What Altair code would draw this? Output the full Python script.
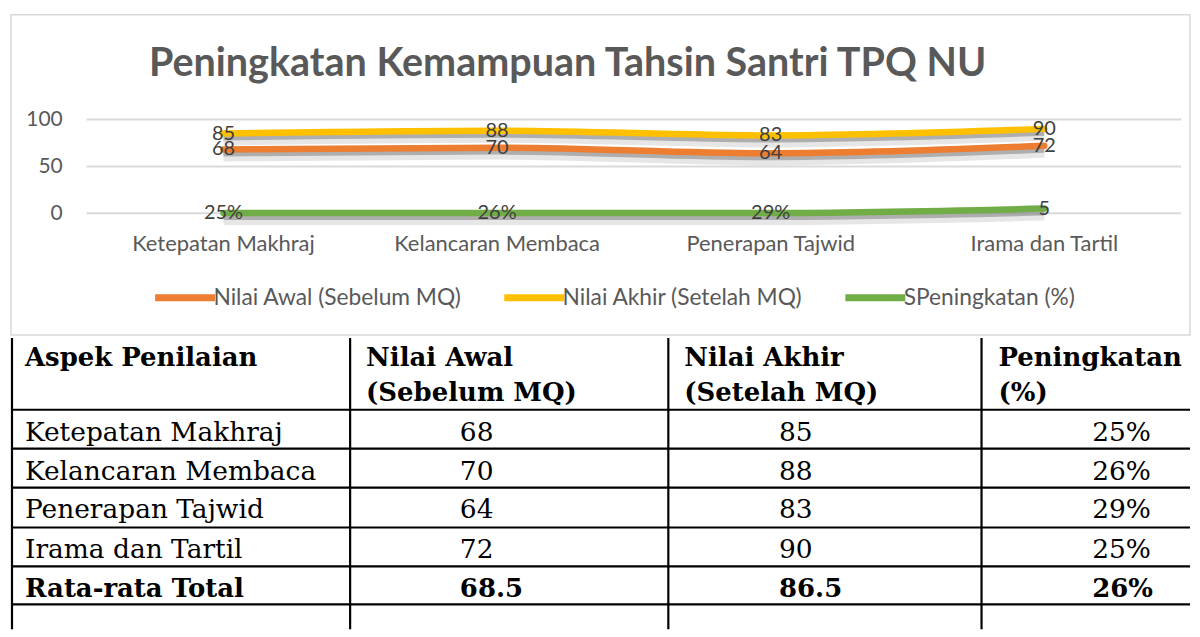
import altair as alt
import pandas as pd

# ---------------- data ----------------
categories = ["Ketepatan Makhraj", "Kelancaran Membaca", "Penerapan Tajwid", "Irama dan Tartil"]
nilai_awal = [68, 70, 64, 72]
nilai_akhir = [85, 88, 83, 90]
peningkatan = [0.25, 0.26, 0.29, 5]
peningkatan_labels = ["25%", "26%", "29%", "5"]
series_names = ["Nilai Awal (Sebelum MQ)", "Nilai Akhir (Setelah MQ)", "SPeningkatan (%)"]
series_colors = ["#ED7D31", "#FFC000", "#70AD47"]
y_ticks = [0, 50, 100]
title_text = "Peningkatan Kemampuan Tahsin Santri TPQ NU"

table_header_1 = ["Aspek Penilaian", "Nilai Awal", "Nilai Akhir", "Peningkatan"]
table_header_2 = ["", "(Sebelum MQ)", "(Setelah MQ)", "(%)"]
table_aspek = ["Ketepatan Makhraj", "Kelancaran Membaca", "Penerapan Tajwid", "Irama dan Tartil", "Rata-rata Total"]
table_awal = ["68", "70", "64", "72", "68.5"]
table_akhir = ["85", "88", "83", "90", "86.5"]
table_pct = ["25%", "26%", "29%", "25%", "26%"]
bold_rows = [False, False, False, False, True]

# ---------------- layout (pixels) ----------------
W1, H1 = 1182, 321          # chart box
X_FIRST, X_STEP = 213, 274.3
Y_ZERO, Y_PER_UNIT = 199, 0.94
W2, H2 = 1182, 295          # table panel

x_dom = [-X_FIRST / X_STEP, (W1 - X_FIRST) / X_STEP]
y_dom = [-(H1 - Y_ZERO) / Y_PER_UNIT, Y_ZERO / Y_PER_UNIT]
xs = alt.Scale(domain=x_dom, nice=False, zero=False)
ys = alt.Scale(domain=y_dom, nice=False, zero=False)

rows = []
for name, vals in zip(series_names, [nilai_awal, nilai_akhir, peningkatan]):
    for i, v in enumerate(vals):
        rows.append({"series": name, "idx": i, "value": v})
df = pd.DataFrame(rows)
df["label"] = [str(v) for v in nilai_awal] + [str(v) for v in nilai_akhir] + peningkatan_labels

grid_df = pd.DataFrame({"v": y_ticks, "x0": -0.5, "x1": len(categories) - 0.5})
cat_df = pd.DataFrame({"idx": list(range(len(categories))), "cat": categories, "base": 0})

FONT = "Lato"
GRAY = "#595959"

X = lambda f: alt.X(f, scale=xs, axis=None)
Y = lambda f: alt.Y(f, scale=ys, axis=None)

grid = alt.Chart(grid_df).mark_rule(color="#d9d9d9", strokeWidth=2).encode(
    y=Y("v:Q"), x=X("x0:Q"), x2="x1:Q")

ylabels = alt.Chart(grid_df).mark_text(font=FONT, fontSize=21, color=GRAY, align="right",
                                       baseline="middle", dx=-24, dy=1).encode(
    y=Y("v:Q"), x=X("x0:Q"), text="v:N")

xlabels = alt.Chart(cat_df).mark_text(font=FONT, fontSize=22, color=GRAY, align="center",
                                      baseline="middle", dy=31).encode(
    x=X("idx:Q"), y=Y("base:Q"), text="cat:N")

shadow2 = alt.Chart(df).mark_line(color="#9a9a9a", opacity=0.25, strokeWidth=12, yOffset=6,
                                  interpolate="monotone").encode(
    x=X("idx:Q"), y=Y("value:Q"), detail="series:N")
shadow = alt.Chart(df).mark_line(color="#808080", opacity=0.55, strokeWidth=6, yOffset=4,
                                 interpolate="monotone").encode(
    x=X("idx:Q"), y=Y("value:Q"), detail="series:N")

lines = alt.Chart(df).mark_line(strokeWidth=6.5, strokeCap="round", interpolate="monotone").encode(
    x=X("idx:Q"), y=Y("value:Q"),
    color=alt.Color("series:N", sort=series_names,
                    scale=alt.Scale(domain=series_names, range=series_colors),
                    legend=alt.Legend(orient="none", legendX=141, legendY=250, direction="horizontal",
                                      title=None, symbolType="stroke", symbolStrokeWidth=7,
                                      symbolSize=3600, labelFont=FONT, labelFontSize=22.8,
                                      labelColor=GRAY, labelOffset={"expr": "-5"}, columnPadding=28,
                                      padding=0, labelLimit=400)),
)

texts = alt.Chart(df).mark_text(font=FONT, fontSize=20, color="#404040", align="center",
                                baseline="middle").encode(
    x=X("idx:Q"), y=Y("value:Q"), text="label:N")

top = alt.layer(grid, ylabels, xlabels, shadow2, shadow, lines, texts).properties(
    width=W1, height=H1,
    view=alt.ViewBackground(stroke="#d9d9d9", strokeWidth=1.5, fill="white"),
    title=alt.TitleParams(text=title_text, font=FONT, fontSize=39.6, fontWeight="bold", color=GRAY,
                          anchor="middle", frame="group", offset=-101, baseline="alphabetic", dx=-33),
)

# ---------------- table ----------------
col_edges = [1, 340, 659, 973]
row_edges = [75, 114, 153, 193, 232, 270]
header_x = [14, 356, 675, 990]
header_base = [31, 66]
body_x = [14, 450, 770, 1084]
TABLE_TOP = 3

vl_df = pd.DataFrame({"x": col_edges, "y0": TABLE_TOP, "y1": H2})
hl_df = pd.DataFrame({"y": row_edges, "x0": col_edges[0], "x1": W2})

txt_rows = []
for j in range(4):
    txt_rows.append({"t": table_header_1[j], "x": header_x[j], "y": header_base[0], "bold": True})
    if table_header_2[j]:
        txt_rows.append({"t": table_header_2[j], "x": header_x[j], "y": header_base[1], "bold": True})
for r in range(len(table_aspek)):
    base = row_edges[r] + 31
    for j, col in enumerate([table_aspek, table_awal, table_akhir, table_pct]):
        txt_rows.append({"t": col[r], "x": body_x[j], "y": base, "bold": bold_rows[r]})
txt_df = pd.DataFrame(txt_rows)

tx = alt.Scale(domain=[0, W2], nice=False, zero=False)
ty = alt.Scale(domain=[0, H2], nice=False, zero=False, reverse=True)

vlines = alt.Chart(vl_df).mark_rule(color="black", strokeWidth=2.2).encode(
    x=alt.X("x:Q", scale=tx, axis=None), y=alt.Y("y0:Q", scale=ty, axis=None), y2="y1:Q")
hlines = alt.Chart(hl_df).mark_rule(color="black", strokeWidth=2.2).encode(
    y=alt.Y("y:Q", scale=ty, axis=None), x=alt.X("x0:Q", scale=tx, axis=None), x2="x1:Q")
t_norm = alt.Chart(txt_df[~txt_df["bold"]]).mark_text(font="DejaVu Serif", fontSize=26.5, color="black",
                                                     align="left", baseline="alphabetic").encode(
    x=alt.X("x:Q", scale=tx, axis=None), y=alt.Y("y:Q", scale=ty, axis=None), text="t:N")
t_bold = alt.Chart(txt_df[txt_df["bold"]]).mark_text(font="DejaVu Serif", fontSize=26, fontWeight="bold",
                                                    color="black", align="left",
                                                    baseline="alphabetic").encode(
    x=alt.X("x:Q", scale=tx, axis=None), y=alt.Y("y:Q", scale=ty, axis=None), text="t:N")

table = alt.layer(vlines, hlines, t_norm, t_bold).properties(width=W2, height=H2)

chart = alt.vconcat(top, table, spacing=0, bounds="flush").properties(
    padding={"left": 2, "top": 5, "right": 0, "bottom": 0}
).configure_view(stroke=None)

chart.save("out.html", embed_options={"renderer": "svg", "actions": False})
